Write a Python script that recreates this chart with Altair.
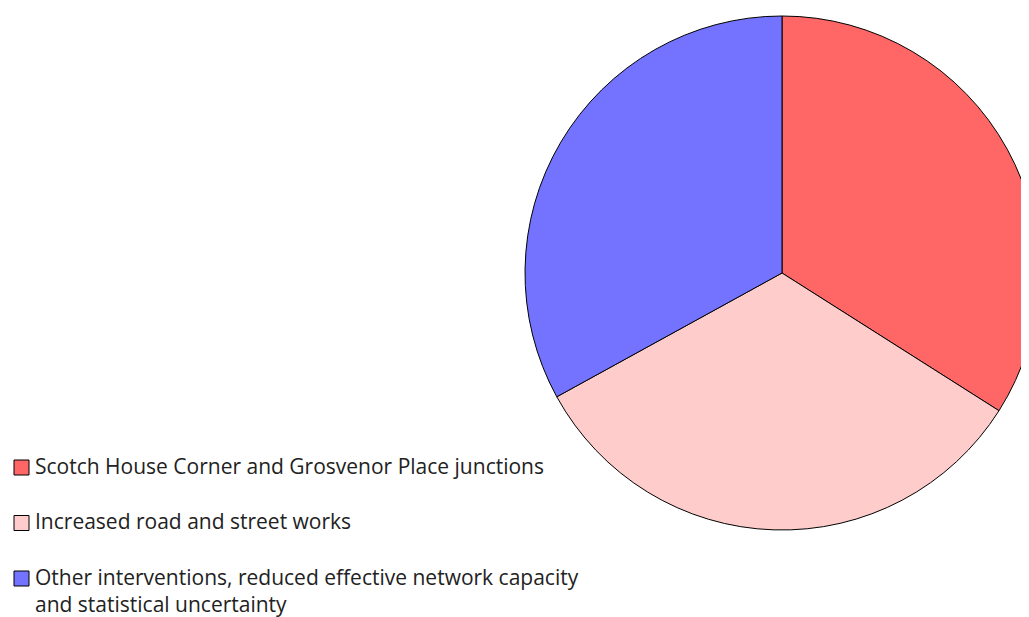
import altair as alt
import pandas as pd

categories = [
    "Scotch House Corner and Grosvenor Place junctions",
    "Increased road and street works",
    "Other interventions, reduced effective network capacity and statistical uncertainty",
]
shares = [34, 33, 33]
colors = ["#FF6666", "#FFCCCC", "#7373FF"]
order = [0, 1, 2]
wrapped_last = ["Other interventions, reduced effective network capacity", "and statistical uncertainty"]

df = pd.DataFrame({"category": categories, "share": shares, "idx": order})

label_expr = (
    "datum.label == '" + categories[2] + "' ? ['" + wrapped_last[0] + "', '" + wrapped_last[1] + "'] : datum.label"
)

chart = (
    alt.Chart(df)
    .mark_arc(radius=257, stroke="black", strokeWidth=1, x=774, y=265)
    .encode(
        theta=alt.Theta("share:Q", stack=True),
        color=alt.Color(
            "category:N",
            scale=alt.Scale(domain=categories, range=colors),
            legend=alt.Legend(
                title=None,
                orient="none",
                legendX=3,
                legendY=449,
                symbolType="square",
                symbolSize=225,
                symbolStrokeColor="black",
                symbolStrokeWidth=1,
                symbolOpacity=1,
                labelFont="Open Sans",
                labelFontSize=21,
                labelColor="#222222",
                labelLimit=900,
                labelOffset=3,
                rowPadding=33.5,
                padding=0,
                labelExpr=label_expr,
            ),
        ),
        order=alt.Order("idx:Q"),
    )
    .properties(width=1013, height=609, padding=0, autosize=alt.AutoSizeParams(type="none"))
    .configure(style={"guide-label": {"lineHeight": 27}})
    .configure_view(stroke=None)
)

chart.save("out.html", embed_options={"renderer": "svg", "actions": False})
